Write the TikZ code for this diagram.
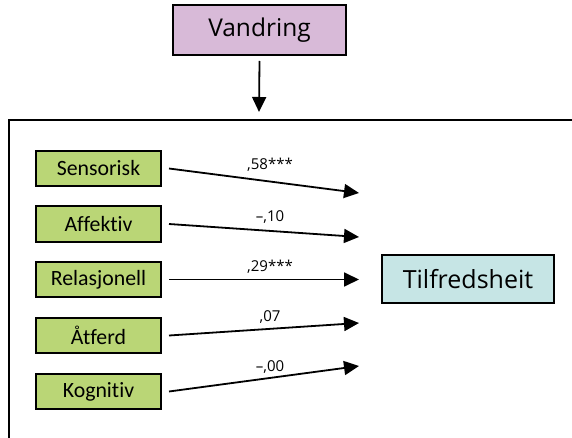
\documentclass[tikz,border=0pt]{standalone}
\usepackage{fontspec}
\setmainfont{Carlito}[Ligatures=NoCommon]
\newfontfamily\labfont{Open Sans}
\usetikzlibrary{arrows.meta}
\definecolor{boxpurple}{RGB}{216,186,216}
\definecolor{boxgreen}{RGB}{186,214,118}
\definecolor{boxcyan}{RGB}{198,229,229}
\tikzset{
  bigbox/.style={draw=black, line width=2pt, inner sep=0pt, text=black},
  factor/.style={draw=black, line width=2pt, fill=boxgreen, minimum width=125pt, minimum height=35pt, inner sep=0pt, font=\fontsize{21.8}{24}\selectfont},
  path/.style={line width=1.8pt, -{Triangle[length=15pt,width=14pt]}},
  coef/.style={font=\labfont\fontsize{15}{17}\selectfont, inner sep=0pt},
  frame/.style={line width=2pt}
}
\begin{document}
\begin{tikzpicture}[x=1pt,y=-1pt]
\useasboundingbox (0,0) rectangle (572,438);
% frame
\coordinate (fb) at (9,440);
\coordinate (fc) at (9,120);
\coordinate (fr) at (574,120);
\draw[frame] (fb) -- (fc) -- (fr);
% top box
\node[bigbox, fill=boxpurple, minimum width=173pt, minimum height=50pt, font=\labfont\fontsize{24.5}{28}\selectfont] (v) at (259.5,30) {Vandring};
\coordinate (vt) at (259,112);
\draw[path] ([yshift=-5pt]v.south) -- (vt);
% outcome
\node[bigbox, fill=boxcyan, minimum width=172pt, minimum height=48pt, font=\labfont\fontsize{25}{28}\selectfont] (t) at (468,279) {Tilfredsheit};
% factors
\node[factor] (s1) at (98.5,168.5) {Sensorisk};
\node[factor] (s2) at (98.5,224) {Affektiv};
\node[factor] (s3) at (98.5,279.5) {Relasjonell};
\node[factor] (s4) at (98.5,335.5) {Åtferd};
\node[factor] (s5) at (98.5,391.5) {Kognitiv};
% arrow targets
\coordinate (e1) at (359,193);
\coordinate (e2) at (359,237);
\coordinate (e3) at (359,279.5);
\coordinate (e4) at (359,323);
\coordinate (e5) at (359,366);
\draw[path] ([xshift=7pt]s1.east) -- (e1);
\draw[path] ([xshift=7pt]s2.east) -- (e2);
\draw[path] ([xshift=7pt]s3.east) -- (e3);
\draw[path] ([xshift=7pt]s4.east) -- (e4);
\draw[path] ([xshift=7pt]s5.east) -- (e5);
% coefficients
\node[coef] (c1) at (270,165) {,58***};
\node[coef] (c2) at (270,217) {–,10};
\node[coef] (c3) at (270,267) {,29***};
\node[coef] (c4) at (270,317) {,07};
\node[coef] (c5) at (270,367) {–,00};
\end{tikzpicture}
\end{document}
